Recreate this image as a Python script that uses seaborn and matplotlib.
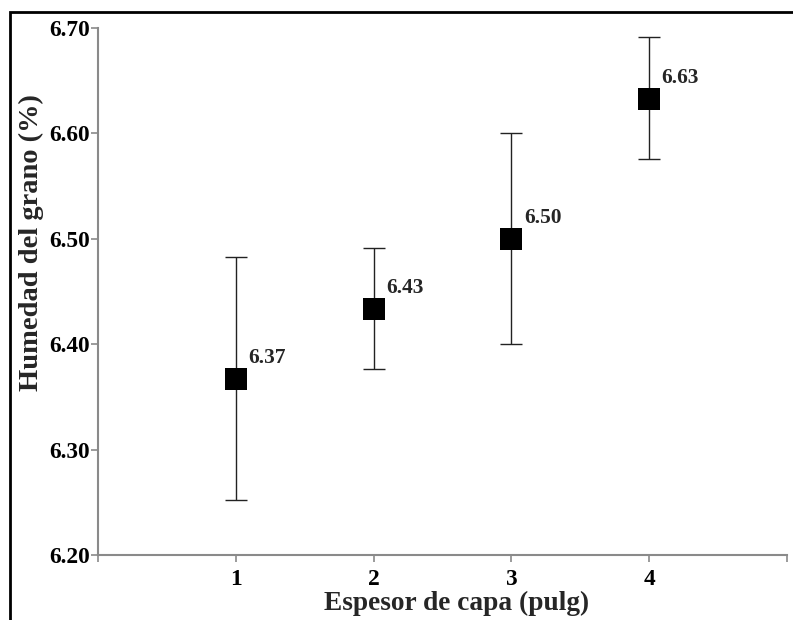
import matplotlib
matplotlib.use("Agg")
import matplotlib.pyplot as plt
import matplotlib.patches as mpatches
import seaborn as sns
import pandas as pd

# datos
espesor = [1, 2, 3, 4]
humedad = [6.367, 6.433, 6.500, 6.633]
etiquetas = ["6.37", "6.43", "6.50", "6.63"]
err_bajo = [6.252, 6.376, 6.400, 6.576]
err_alto = [6.483, 6.491, 6.600, 6.691]
yticks = [6.20, 6.30, 6.40, 6.50, 6.60, 6.70]

df = pd.DataFrame({"espesor": espesor, "humedad": humedad})

sns.set_style("ticks")
plt.rcParams["font.family"] = ["Liberation Serif", "DejaVu Serif"]
plt.rcParams["font.weight"] = "bold"

fig = plt.figure(figsize=(7.93, 6.20), dpi=100)
ax = fig.add_axes([98 / 793, 1 - 555 / 620, (787 - 98) / 793, (555 - 28) / 620])

# barras de error
yerr = [[h - lo for h, lo in zip(humedad, err_bajo)],
        [hi - h for h, hi in zip(humedad, err_alto)]]
ax.errorbar(espesor, humedad, yerr=yerr, fmt="none", ecolor="#222222",
            elinewidth=1.0, capsize=8, capthick=1.0, zorder=2)

sns.scatterplot(data=df, x="espesor", y="humedad", marker="s", s=270,
                color="black", edgecolor="black", linewidth=0, ax=ax, zorder=3)

for x, y, t in zip(espesor, humedad, etiquetas):
    ax.annotate(t, (x, y), xytext=(9, 8), textcoords="offset points",
                fontsize=15.4, fontweight="bold", ha="left", va="bottom")

ax.set_xlim(0, 5)
ax.set_ylim(6.20, 6.70)
ax.set_xticks([0, 1, 2, 3, 4, 5])
ax.set_xticklabels(["", "1", "2", "3", "4", ""])
ax.set_yticks(yticks)
ax.set_yticklabels([f"{v:.2f}" for v in yticks])

for s in ["top", "right"]:
    ax.spines[s].set_visible(False)
for s in ["left", "bottom"]:
    ax.spines[s].set_color("#8a8a8a")
    ax.spines[s].set_linewidth(1.5)
ax.tick_params(axis="both", colors="#8a8a8a", labelcolor="black",
               length=5, width=1.2, labelsize=16.8, pad=1)
ax.tick_params(axis="x", pad=5)
for lab in ax.get_xticklabels() + ax.get_yticklabels():
    lab.set_fontweight("bold")

ax.set_xlabel("Espesor de capa (pulg)", fontsize=19.7, fontweight="bold")
ax.set_ylabel("Humedad del grano (%)", fontsize=20.5, fontweight="bold")
ax.xaxis.set_label_coords(2.6 / 5, -0.068)
ax.yaxis.set_label_coords(-0.079, 0.592)

# marco exterior
fig.patches.append(mpatches.Rectangle((10 / 793, -0.1), 1.2, 1 - 12 / 620 + 0.1,
                                      transform=fig.transFigure, fill=False,
                                      edgecolor="black", linewidth=2))

fig.savefig("out.png", dpi=100)
